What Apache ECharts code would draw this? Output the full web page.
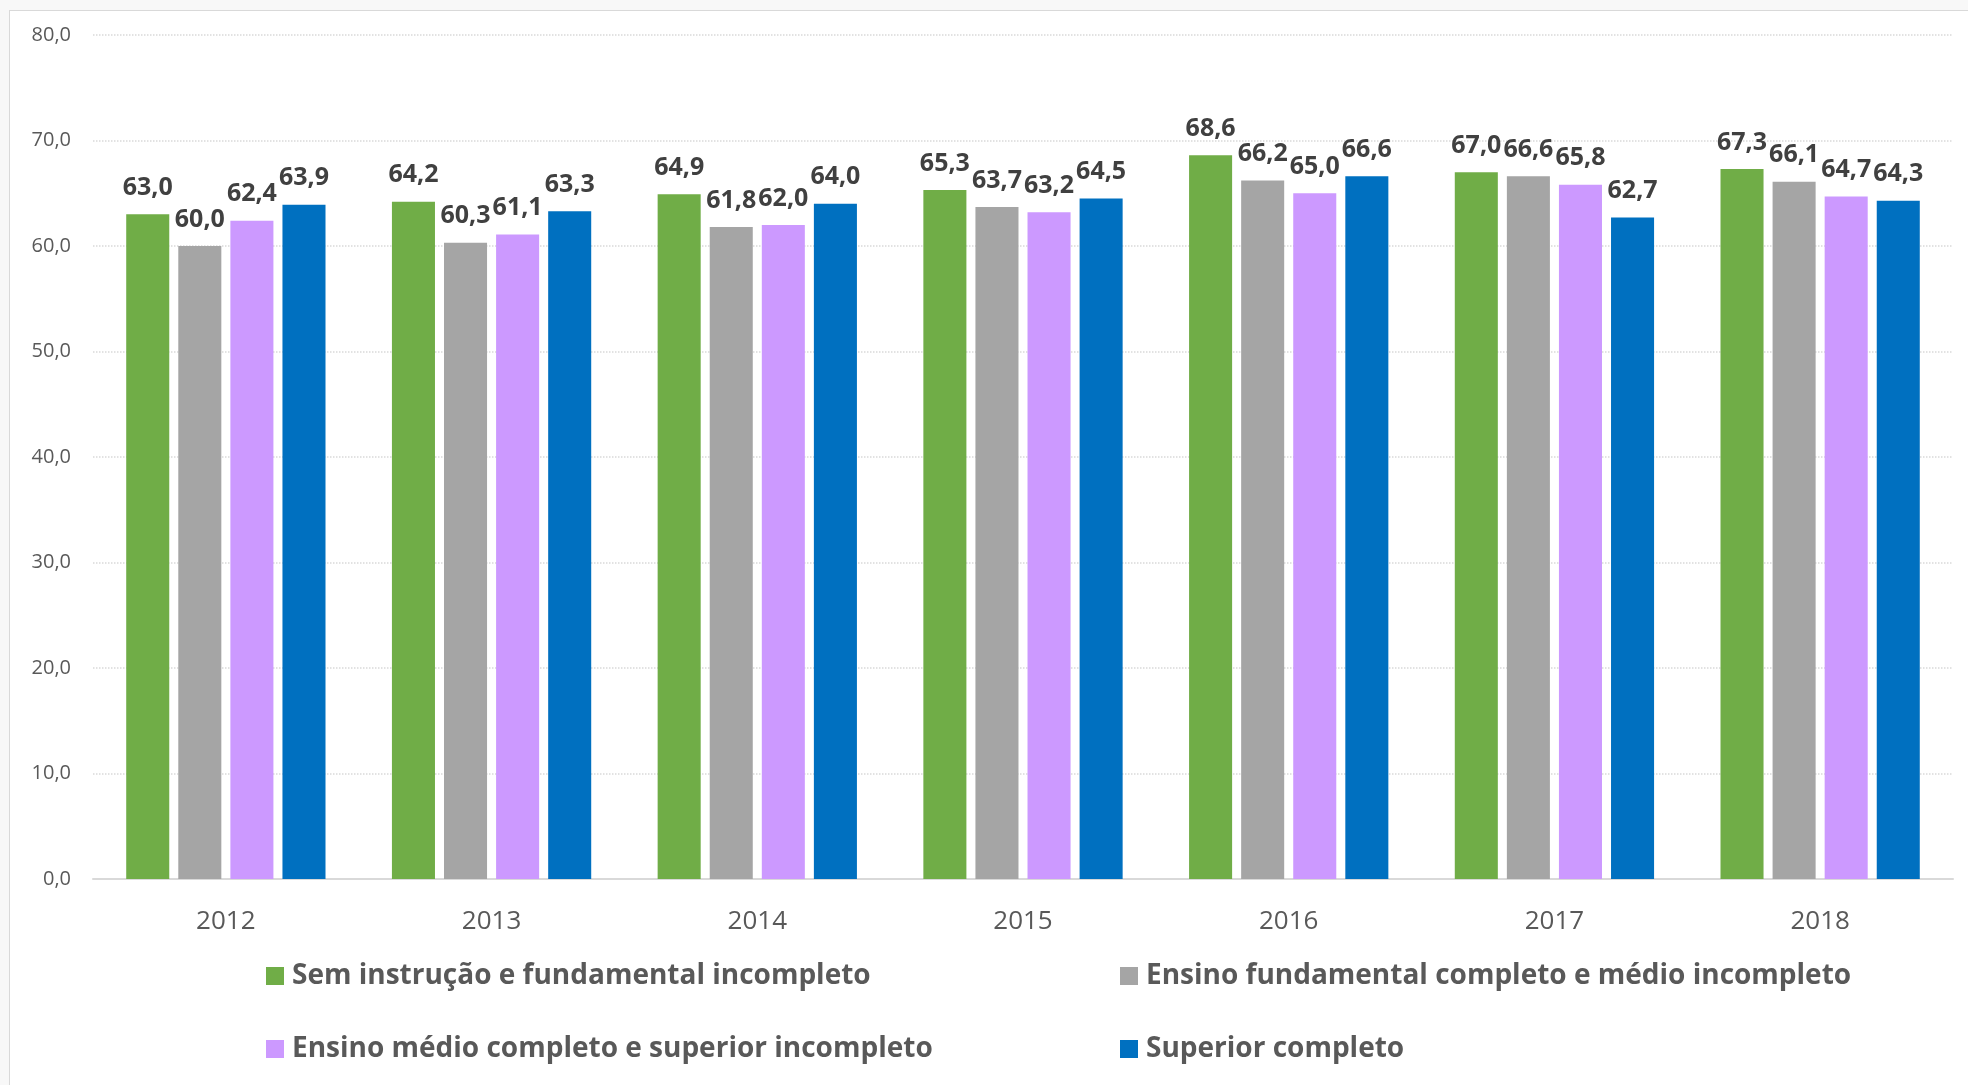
<!DOCTYPE html>
<html>
<head>
<meta charset="utf-8">
<script src="https://cdn.jsdelivr.net/npm/echarts@6/dist/echarts.min.js"></script>
<style>
  html, body { margin: 0; padding: 0; width: 1968px; height: 1085px; overflow: hidden; background: #f8f8f8; }
  #frame { position: absolute; left: 9px; top: 10px; right: -2px; bottom: -2px; background: #fff;
           border-left: 1px solid #d9d9d9; border-top: 1px solid #d9d9d9; }
  #chart { position: absolute; left: 0; top: 0; width: 1968px; height: 1085px; }
</style>
</head>
<body>
<div id="frame"></div>
<div id="chart"></div>
<script>
// ---- data ----
const years = ['2012', '2013', '2014', '2015', '2016', '2017', '2018'];
const seriesNames = [
  'Sem instrução e fundamental incompleto',
  'Ensino fundamental completo e médio incompleto',
  'Ensino médio completo e superior incompleto',
  'Superior completo'
];
const semInstrucao = [63.0, 64.2, 64.9, 65.3, 68.6, 67.0, 67.3];
const fundCompleto = [60.0, 60.3, 61.8, 63.7, 66.2, 66.6, 66.1];
const medioCompleto = [62.4, 61.1, 62.0, 63.2, 65.0, 65.8, 64.7];
const superiorCompleto = [63.9, 63.3, 64.0, 64.5, 66.6, 62.7, 64.3];
const colors = ['#70ad47', '#a5a5a5', '#cc99ff', '#0070c0'];

const FONT = '"Open Sans", "Noto Sans", sans-serif';
const comma = v => (+v).toFixed(1).replace('.', ',');

const chart = echarts.init(document.getElementById('chart'), null, { renderer: 'canvas' });

const values = [semInstrucao, fundCompleto, medioCompleto, superiorCompleto];
const legendText = { color: '#595959', fontFamily: FONT, fontWeight: 'bold', fontSize: 28, padding: [0, 0, 0, 3] };

chart.setOption({
  backgroundColor: 'transparent',
  animation: false,
  grid: { left: 93, right: 15, top: 35, bottom: 206 },
  legend: [
    { data: [seriesNames[0], seriesNames[2]], orient: 'vertical', left: 261, top: 957,
      icon: 'rect', itemWidth: 18, itemHeight: 18, itemGap: 45, textStyle: legendText },
    { data: [seriesNames[1], seriesNames[3]], orient: 'vertical', left: 1115, top: 957,
      icon: 'rect', itemWidth: 18, itemHeight: 18, itemGap: 45, textStyle: legendText }
  ],
  xAxis: {
    type: 'category', data: years,
    axisLine: { lineStyle: { color: '#d9d9d9', width: 2 } },
    axisTick: { show: false },
    axisLabel: { color: '#595959', fontFamily: FONT, fontSize: 26, margin: 30 }
  },
  yAxis: {
    type: 'value', min: 0, max: 80, interval: 10,
    axisLine: { show: false }, axisTick: { show: false },
    axisLabel: { color: '#595959', fontFamily: FONT, fontSize: 20, margin: 22, formatter: comma },
    splitLine: { lineStyle: { color: '#d9d9d9', type: 'dotted', width: 1.5 } }
  },
  series: seriesNames.map((name, i) => ({
    name, type: 'bar', data: values[i],
    barGap: '21%', barCategoryGap: '25%',
    itemStyle: { color: colors[i] },
    label: { show: true, position: 'top', distance: 14, color: '#404040',
      fontFamily: FONT, fontWeight: 'bold', fontSize: 25, formatter: p => comma(p.value) }
  }))
});
</script>
</body>
</html>
